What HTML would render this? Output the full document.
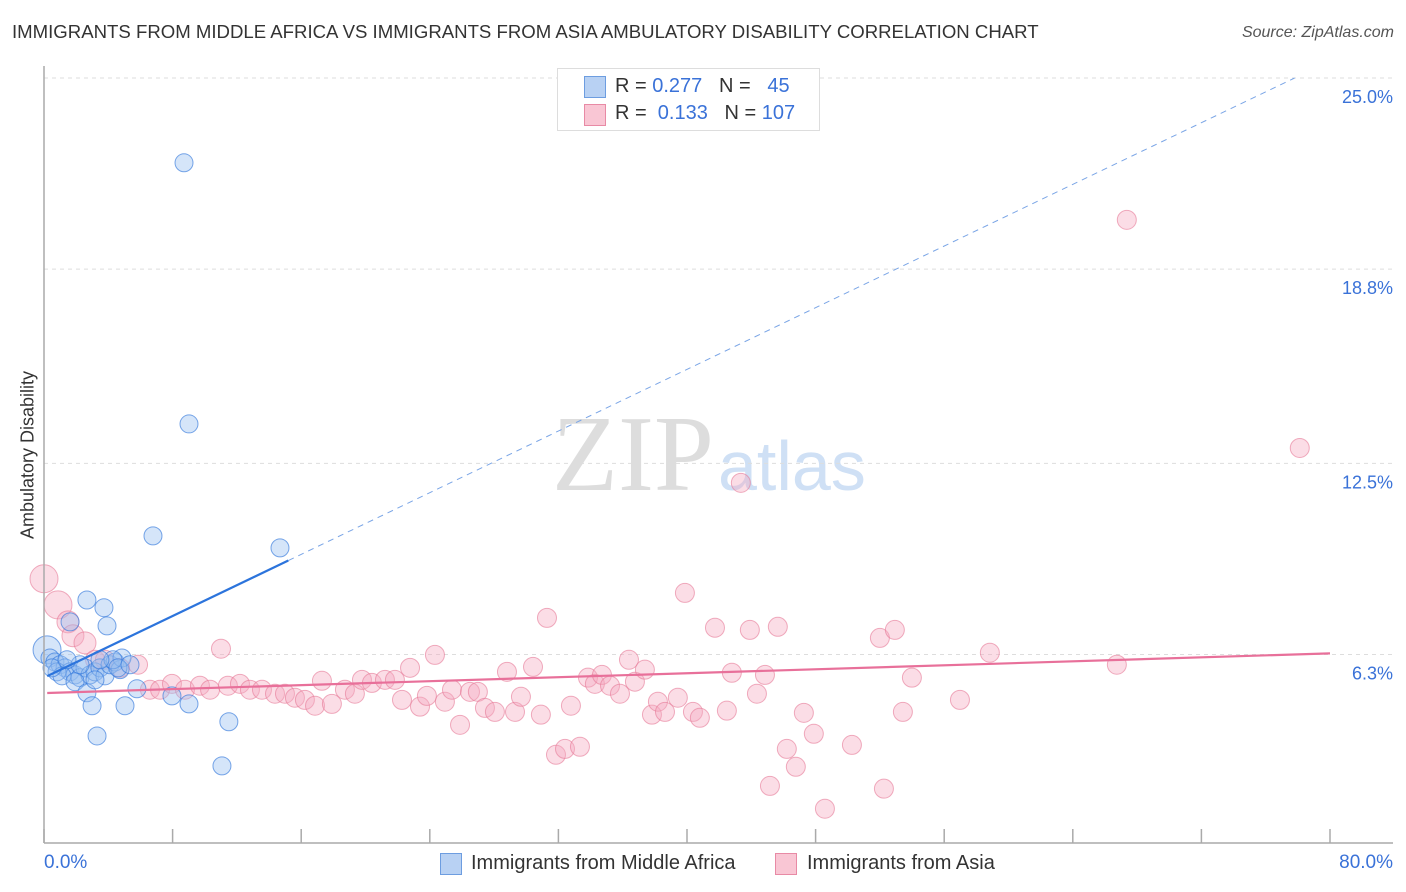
<!DOCTYPE html>
<html><head><meta charset="utf-8">
<style>
body{margin:0;width:1406px;height:892px;background:#fff;font-family:"Liberation Sans",sans-serif;overflow:hidden;position:relative}
.t{position:absolute;white-space:nowrap}
</style></head>
<body>
<div class="t" style="left:12px;top:21px;font-size:18.6px;color:#333">IMMIGRANTS FROM MIDDLE AFRICA VS IMMIGRANTS FROM ASIA AMBULATORY DISABILITY CORRELATION CHART</div>
<div class="t" style="right:12px;top:24px;font-size:16px;color:#555;font-style:italic">Source: ZipAtlas.com</div>
<div class="t" style="left:28px;top:455px;font-size:18px;color:#333;transform:translate(-50%,-50%) rotate(-90deg)">Ambulatory Disability</div>
<svg id="chart" width="1406" height="892" style="position:absolute;left:0;top:0">
<text x="714" y="490" font-family="Liberation Serif" font-size="108" fill="#ddd" text-anchor="end">ZIP</text>
<text x="718" y="490" font-family="Liberation Sans" font-size="70" fill="#cfe0f5">atlas</text>
<g id="grid"></g><g id="pts"></g><g id="lines"></g><g id="axes"></g>
</svg>
<div style="position:absolute;left:557px;top:68px;width:261px;height:61px;border:1px solid #ddd;background:#fff;font-size:20px;color:#333">
<div style="position:absolute;left:26px;top:7px;width:20px;height:20px;background:#b8d1f3;border:1px solid #6d9de0"></div>
<div class="t" style="left:57px;top:6px">R = <span style="color:#3a72d8">0.277</span>&nbsp;&nbsp;&nbsp;N = &nbsp;&nbsp;<span style="color:#3a72d8">45</span></div>
<div style="position:absolute;left:26px;top:35px;width:20px;height:20px;background:#f9c6d4;border:1px solid #e88aa5"></div>
<div class="t" style="left:57px;top:33px">R = &nbsp;<span style="color:#3a72d8">0.133</span>&nbsp;&nbsp;&nbsp;N = <span style="color:#3a72d8">107</span></div>
</div>
<div class="t" style="left:44px;top:852px;font-size:19px;color:#3a72d8">0.0%</div>
<div class="t" style="right:13px;top:852px;font-size:19px;color:#3a72d8">80.0%</div>
<div style="position:absolute;left:440px;top:853px;width:20px;height:20px;background:#b8d1f3;border:1px solid #6d9de0"></div>
<div class="t" style="left:471px;top:852px;font-size:20px;color:#333">Immigrants from Middle Africa</div>
<div style="position:absolute;left:775px;top:853px;width:20px;height:20px;background:#f9c6d4;border:1px solid #e88aa5"></div>
<div class="t" style="left:807px;top:852px;font-size:20px;color:#333">Immigrants from Asia</div>
<script>
const yTicks=[25.0,18.8,12.5,6.3];
const yTickLabels=["25.0%","18.8%","12.5%","6.3%"];
const xTicks=[0,8,16,24,32,40,48,56,64,72,80];
const blueX=[0.19,0.37,0.68,1.0,1.31,1.62,0.81,1.93,2.24,1.12,2.55,2.86,3.17,3.48,3.79,4.11,4.42,4.73,4.85,1.62,2.67,3.73,3.92,1.93,2.67,2.99,3.3,5.04,5.78,7.96,9.02,11.5,11.07,6.78,9.02,8.71,14.68,4.29,4.6,3.48,2.24,0.5,1.43,3.17,5.35];
const blueY=[6.45,6.19,6.06,5.97,5.87,5.74,5.74,5.64,5.55,5.61,5.87,5.64,5.74,5.87,5.61,5.97,6.06,5.81,6.19,7.36,8.07,7.82,7.23,5.42,5.06,4.64,3.66,4.64,5.19,4.96,4.7,4.12,2.69,10.15,13.78,22.25,9.76,6.13,5.87,6.13,5.97,5.87,6.13,5.48,5.97];
const pinkX=[0,0.87,1.49,1.8,2.55,3.17,3.79,4.73,5.85,6.59,11.01,7.22,7.96,8.77,9.7,10.33,11.44,12.19,12.81,13.56,14.37,14.99,15.61,16.23,16.86,17.29,17.91,18.72,19.34,19.78,20.4,21.21,21.83,22.27,22.77,23.39,23.82,24.32,24.94,25.38,25.88,26.5,26.99,27.43,28.05,28.8,29.3,29.67,30.42,30.91,31.29,31.85,32.41,32.78,33.34,33.84,34.27,34.71,35.21,35.83,36.39,36.76,37.38,37.82,38.19,38.63,39.43,39.87,40.37,40.8,41.74,42.48,42.79,43.35,43.91,44.35,44.85,45.16,45.65,46.21,46.77,47.27,47.89,48.58,50.26,52.0,52.25,52.93,53.43,53.99,56.98,58.84,66.74,67.36,78.12];
const pinkY=[8.76,7.91,7.36,6.91,6.68,6.13,6.13,5.87,5.97,5.16,6.49,5.16,5.35,5.16,5.29,5.16,5.29,5.35,5.16,5.16,5.03,5.03,4.9,4.83,4.64,5.45,4.7,5.16,5.03,5.48,5.38,5.48,5.48,4.83,5.87,4.61,4.96,6.29,4.77,5.16,4.02,5.09,5.09,4.57,4.44,5.74,4.44,4.93,5.9,4.35,7.49,3.05,3.24,4.64,3.31,5.55,5.35,5.64,5.29,5.03,6.13,5.42,5.81,4.35,4.77,4.44,4.9,8.3,4.44,4.25,7.17,4.48,5.71,11.87,7.1,5.03,5.64,2.04,7.2,3.24,2.66,4.41,3.73,1.3,3.37,6.84,1.95,7.1,4.44,5.55,4.83,6.36,5.97,20.4,13.0];
const blueTrend=[5.55,0.25];   // intercept, slope
const pinkTrend=[5.05,0.0161];
const NS="http://www.w3.org/2000/svg";
const X=v=>44+v/80*1286;
const Y=v=>848.8-v/25*770.8;
function mk(tag,attrs,parent){const e=document.createElementNS(NS,tag);for(const k in attrs)e.setAttribute(k,attrs[k]);document.getElementById(parent).appendChild(e);return e;}
yTicks.forEach((t,i)=>{
  const l=mk('line',{x1:44,x2:1393,y1:Y(t),y2:Y(t),stroke:'#ddd','stroke-dasharray':'4,4'},'grid');
  
  
  const tx=mk('text',{x:1393,y:Y(t)+25,'text-anchor':'end','font-size':18,fill:'#3a72d8','font-family':'Liberation Sans'},'grid');
  tx.textContent=yTickLabels[i];
  
  
});
const ax=mk('line',{x1:44,x2:44,y1:66,y2:843,stroke:'#aaa','stroke-width':1.5},'axes');


const bx=mk('line',{x1:44,x2:1393,y1:843,y2:843,stroke:'#aaa','stroke-width':1.5},'axes');


xTicks.forEach(t=>{
  const l=mk('line',{x1:X(t),x2:X(t),y1:829,y2:843,stroke:'#aaa','stroke-width':1.5},'axes');
  
  
});
pinkX.forEach((x,i)=>{
  const c=mk('circle',{cx:X(x),cy:Y(pinkY[i]),r:i<2?14:(i<5?11:9.5),fill:'rgba(246,170,192,0.4)',stroke:'rgba(230,120,150,0.6)','stroke-width':1},'pts');
  
  
});
blueX.forEach((x,i)=>{
  const c=mk('circle',{cx:X(x),cy:Y(blueY[i]),r:i==0?14:9,fill:'rgba(150,190,240,0.4)',stroke:'rgba(50,120,220,0.65)','stroke-width':1},'pts');
  
  
});
const bEnd=15.2, bDashEnd=(25-blueTrend[0])/blueTrend[1];
const bl=mk('line',{x1:X(0.2),y1:Y(blueTrend[0]+blueTrend[1]*0.2),x2:X(bEnd),y2:Y(blueTrend[0]+blueTrend[1]*bEnd),stroke:'#2c74dc','stroke-width':2.2},'lines');


const bd=mk('line',{x1:X(bEnd),y1:Y(blueTrend[0]+blueTrend[1]*bEnd),x2:X(bDashEnd),y2:Y(25),stroke:'#7aa5e6','stroke-width':1,'stroke-dasharray':'6,5'},'lines');


const pl=mk('line',{x1:X(0.2),y1:Y(pinkTrend[0]+pinkTrend[1]*0.2),x2:X(80),y2:Y(pinkTrend[0]+pinkTrend[1]*80),stroke:'#e8709a','stroke-width':2.2},'lines');


</script>
</body></html>
